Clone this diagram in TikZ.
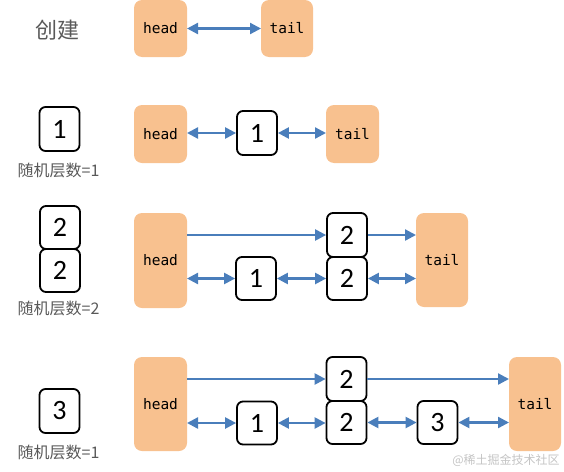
\documentclass[tikz,border=0pt]{standalone}
\usepackage{fontspec}
\newfontfamily\cjk{Noto Sans CJK SC}
\newfontfamily\monof{DejaVu Sans Mono}
\newfontfamily\numf{Carlito}
\usetikzlibrary{arrows.meta}
\definecolor{peach}{HTML}{F8C18F}
\definecolor{lblue}{HTML}{4A7EBB}
\definecolor{gtext}{HTML}{595959}
\definecolor{wm}{HTML}{C4C4C4}
\tikzset{
  ht/.style={fill=peach, draw=none, rounded corners=8pt, inner sep=0pt, outer sep=0pt,
    font=\monof\fontsize{14.5}{14.5}\selectfont},
  nb/.style={draw=black, fill=white, line width=1.8pt, rounded corners=6pt, inner sep=0pt,
    minimum width=40pt, minimum height=43pt, font=\numf\fontsize{28}{28}\selectfont},
  lab/.style={text=gtext, inner sep=0pt, font=\cjk\fontsize{16}{16}\selectfont},
  tip/.tip={Triangle[length=11pt,width=11pt]},
  bi/.style={draw=lblue, line width=2.3pt, tip-tip},
  uni/.style={draw=lblue, line width=2.3pt, -tip},
}
\begin{document}
\begin{tikzpicture}[x=1pt,y=-1pt]
\useasboundingbox (0,0) rectangle (564,471);
% Row 1
\node[lab, font=\cjk\fontsize{22}{22}\selectfont] (c1) at (57,30) {创建};
\node[ht, minimum width=53pt, minimum height=57pt] (head1) at (160.5,28.5) {head};
\node[ht, minimum width=52pt, minimum height=57pt] (tail1) at (287,28.5) {tail};
\draw[bi] (head1) -- (tail1);
% Row 2
\node[nb, minimum height=44pt] (lb1) at (59.5,129) {1};
\node[lab] (t1) at (58.5,170) {随机层数=1};
\node[ht, minimum width=53pt, minimum height=58pt] (head2) at (160.5,134) {head};
\node[nb, minimum height=44pt] (n21) at (257,133) {1};
\node[ht, minimum width=53pt, minimum height=58pt] (tail2) at (352.5,134) {tail};
\draw[bi] (head2.east |- n21.west) -- (n21.west);
\draw[bi] (n21.east) -- (n21.east -| tail2.west);
% Row 3
\node[nb] (lb2a) at (60,227.5) {2};
\node[nb] (lb2b) at (60,270.5) {2};
\node[lab] (t2) at (58.5,308) {随机层数=2};
\node[ht, minimum width=53pt, minimum height=95pt] (head3) at (160.5,260.5) {head};
\node[ht, minimum width=52pt, minimum height=94pt] (tail3) at (442,260) {tail};
\node[nb, minimum height=44pt] (u32) at (347,235) {2};
\node[nb] (l32) at (347,278.5) {2};
\node[nb] (n31) at (256,278.5) {1};
\draw[uni] (head3.east |- u32.west) -- (u32.west);
\draw[uni] (u32.east) -- (u32.east -| tail3.west);
\draw[bi] (head3.east |- n31.west) -- (n31.west);
\draw[bi] (n31.east) -- (l32.west);
\draw[bi] (l32.east) -- (l32.east -| tail3.west);
% Row 4
\node[nb, minimum height=44pt] (lb3) at (59.5,411) {3};
\node[lab] (t3) at (58.5,452) {随机层数=1};
\node[ht, minimum width=53pt, minimum height=94pt] (head4) at (160.5,404) {head};
\node[ht, minimum width=52pt, minimum height=94pt] (tail4) at (535,404) {tail};
\node[nb, minimum height=44pt] (u42) at (346.5,379) {2};
\node[nb] (l42) at (346.5,422.5) {2};
\node[nb] (n41) at (257,423) {1};
\node[nb] (n43) at (437.5,422.5) {3};
\draw[uni] (head4.east |- u42.west) -- (u42.west);
\draw[uni] (u42.east) -- (u42.east -| tail4.west);
\draw[bi] (head4.east |- n41.west) -- (n41.west);
\draw[bi] (n41.east) -- (n41.east -| l42.west);
\draw[bi] (l42.east) -- (n43.west);
\draw[bi] (n43.east) -- (n43.east -| tail4.west);
% watermark
\node[text=wm, inner sep=0pt, font=\cjk\fontsize{12}{12}\selectfont] (wmk) at (506,460) {@稀土掘金技术社区};
\end{tikzpicture}
\end{document}
